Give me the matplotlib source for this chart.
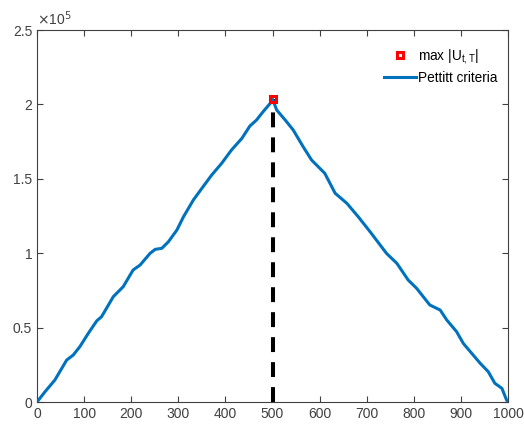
import matplotlib
matplotlib.use('Agg')
import matplotlib.pyplot as plt
from matplotlib.ticker import FuncFormatter, MultipleLocator

plt.rcParams['font.family'] = ['Liberation Sans', 'DejaVu Sans']

# Pettitt statistic (x = time index, u = |U_t,T|)
x = [0, 17, 38, 63, 77, 91, 109, 127, 137, 162, 183, 204, 219, 240, 251, 265,
     279, 297, 311, 332, 350, 371, 392, 413, 435, 452, 466, 480, 498, 500,
     509, 527, 544, 565, 583, 611, 633, 658, 682, 707, 742, 764, 788, 806,
     820, 834, 856, 870, 891, 905, 923, 941, 958, 972, 987, 997, 1000]
u = [0, 6.9e3, 14.8e3, 28.2e3, 31.6e3, 37.2e3, 46.2e3, 54.6e3, 57.3e3, 70.8e3,
     77.5e3, 88.7e3, 92.1e3, 99.9e3, 102.6e3, 103.3e3, 107.7e3, 115.6e3,
     124.5e3, 135.8e3, 143.6e3, 152.6e3, 160.4e3, 169.4e3, 177.2e3, 185.5e3,
     189.5e3, 195.1e3, 201.8e3, 203.5e3,
     196.2e3, 189.5e3, 182.8e3, 171.6e3, 162.6e3, 153.7e3, 140.3e3, 133.5e3,
     124.5e3, 114.5e3, 99.9e3, 93.2e3, 82e3, 76.4e3, 70.8e3, 65.2e3, 61.8e3,
     55.1e3, 47.2e3, 39.4e3, 32.7e3, 26e3, 20.4e3, 12.6e3, 9.2e3, 1.3e3, 0]

t_max = 500
u_max = 203.5e3

grey = '#404040'

fig = plt.figure(figsize=(5.24, 4.29), dpi=100)
ax = fig.add_axes([0.0706, 0.0629, 0.8989, 0.8671])

ax.plot([t_max, t_max], [0, u_max], '--', color='k', lw=2.9, dashes=(3.7, 2.5), zorder=2)
ax.plot(t_max, u_max, 's', ms=5, mfc='none', mec='red', mew=2.2,
        label=r'max |U$_{\mathregular{t,T}}$|', zorder=4)
ax.plot(x, u, color='#0072BD', lw=2.2, label='Pettitt criteria', zorder=3)

ax.set_xlim(0, 1000)
ax.set_ylim(0, 2.5e5)
ax.xaxis.set_major_locator(MultipleLocator(100))
ax.yaxis.set_major_locator(MultipleLocator(0.5e5))
ax.yaxis.set_major_formatter(FuncFormatter(lambda v, p: '%g' % (v / 1e5)))
ax.tick_params(direction='in', top=True, right=True, length=4, width=0.8,
               colors=grey, labelsize=10, labelcolor=grey)
for s in ax.spines.values():
    s.set_color(grey)
    s.set_linewidth(0.8)

ax.text(0, 1.005, r'$\times$10$^{5}$', transform=ax.transAxes, fontsize=10,
        color=grey, ha='left', va='bottom')

ax.legend(loc='upper right', bbox_to_anchor=(0.977, 0.955), frameon=False,
          borderpad=0, borderaxespad=0,
          fontsize=9.8, handlelength=2.3, handletextpad=0.15, labelspacing=0.37)

fig.savefig('out.png', dpi=100)
